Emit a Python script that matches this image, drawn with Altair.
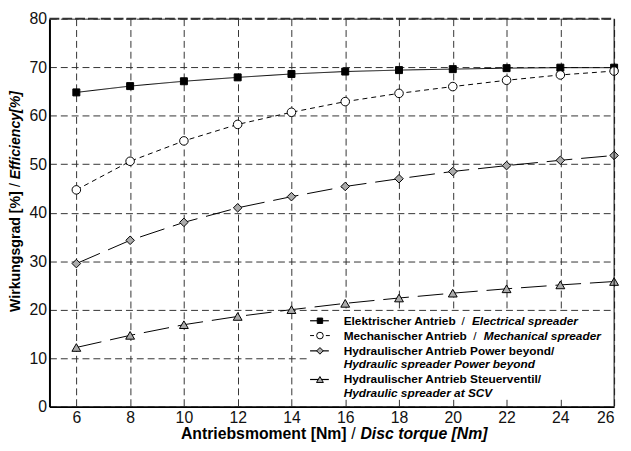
import altair as alt
import pandas as pd

# ---------------- data ----------------
torque = [6, 8, 10, 12, 14, 16, 18, 20, 22, 24, 26]
elektrisch = [64.8, 66.1, 67.1, 67.9, 68.6, 69.1, 69.4, 69.6, 69.8, 69.9, 69.9]
mechanisch = [44.7, 50.6, 54.8, 58.2, 60.7, 62.9, 64.6, 66.0, 67.3, 68.4, 69.2]
hydr_power_beyond = [29.5, 34.3, 38.0, 41.0, 43.3, 45.4, 47.0, 48.5, 49.7, 50.8, 51.8]
hydr_steuerventil = [12.2, 14.7, 16.9, 18.6, 20.0, 21.3, 22.4, 23.4, 24.3, 25.1, 25.8]

series_keys = ["elek", "mech", "hpb", "hscv"]
legend_de = ["Elektrischer Antrieb", "Mechanischer Antrieb",
             "Hydraulischer Antrieb Power beyond/", "Hydraulischer Antrieb Steuerventil/"]
legend_en = ["Electrical spreader", "Mechanical spreader",
             "Hydraulic spreader Power beyond", "Hydraulic spreader at SCV"]
y_ticks = [0, 10, 20, 30, 40, 50, 60, 70, 80]
x_title_de, x_title_en = "Antriebsmoment [Nm]", "Disc torque [Nm]"
y_title_de, y_title_en = "Wirkungsgrad [%]", "Efficiency[%]"

rows = []
for key, vals in zip(series_keys, [elektrisch, mechanisch, hydr_power_beyond, hydr_steuerventil]):
    for t, v in zip(torque, vals):
        rows.append({"series": key, "torque": t, "eff": v})
df = pd.DataFrame(rows)

# ---------------- layout ----------------
W, H = 572, 393
FONT = "Liberation Sans"

xs = alt.Scale(domain=[5, 26], nice=False, zero=False)
ys = alt.Scale(domain=[0, 80], nice=False)
X = alt.X("torque:Q", scale=xs, axis=alt.Axis(values=torque, title=None, labelPadding=3))
Y = alt.Y("eff:Q", scale=ys, axis=alt.Axis(values=y_ticks, title=None, labelPadding=3))

styles = {
    "elek": dict(dash=[1, 0], width=1.0, shape="square", fill="black", size=50),
    "mech": dict(dash=[5, 4], width=1.0, shape="circle", fill="white", size=75),
    "hpb": dict(dash=[26, 9], width=1.0, shape="diamond", fill="#ababab", size=75),
    "hscv": dict(dash=[26, 9], width=1.0, shape="triangle-up", fill="#ababab", size=80),
}

one = alt.Data(values=[{"k": 1}])


def vtext(txt, x, y, **kw):
    params = dict(font=FONT, fontSize=12, baseline="middle", color="black", align="left")
    params.update(kw)
    return alt.Chart(one).mark_text(text=txt, **params).encode(x=alt.value(x), y=alt.value(y))


layers = []
for key in series_keys:
    s = styles[key]
    sub = alt.Chart(df).transform_filter(alt.datum.series == key)
    layers.append(sub.mark_line(color="black", strokeWidth=s["width"], strokeDash=s["dash"]).encode(x=X, y=Y))
    layers.append(sub.mark_point(shape=s["shape"], filled=True, fill=s["fill"], stroke="black",
                                 strokeWidth=1, size=s["size"], opacity=1).encode(x=X, y=Y))

# white legend box (covers the grid) drawn as a thick white rule
layers.append(alt.Chart(one).mark_rule(color="white", strokeWidth=89, strokeCap="butt").encode(
    x=alt.value(263), x2=alt.value(572), y=alt.value(341.5)))

# frame: right border and thick top
layers.append(alt.Chart(one).mark_rule(color="black", strokeWidth=1).encode(
    x=alt.value(W), y=alt.value(0), y2=alt.value(H)))
layers.append(alt.Chart(one).mark_rule(color="#333", strokeWidth=2, strokeDash=[10, 3]).encode(
    x=alt.value(0), x2=alt.value(W), y=alt.value(0)))

# legend
row_y = [306, 321, 336.5, 365.5]
row_y2 = [None, None, 350, 379]
sx0, sx1, mx, tx = 264, 283, 274, 298
slash_xs = [419, 431]
for i, key in enumerate(series_keys):
    s = styles[key]
    y = row_y[i]
    if key == "mech":
        layers.append(alt.Chart(one).mark_rule(color="black", strokeWidth=1, strokeDash=[4, 4]).encode(
            x=alt.value(sx0), x2=alt.value(sx1 + 1), y=alt.value(y)))
    else:
        layers.append(alt.Chart(one).mark_rule(color="black", strokeWidth=1.2).encode(
            x=alt.value(sx0), x2=alt.value(sx1), y=alt.value(y)))
    layers.append(alt.Chart(one).mark_point(shape=s["shape"], filled=True, fill=s["fill"], stroke="black",
                                            strokeWidth=1, size=s["size"] * 0.6, opacity=1).encode(
        x=alt.value(mx), y=alt.value(y)))
    layers.append(vtext(legend_de[i], tx, y, fontWeight="bold"))
    if row_y2[i] is None:
        layers.append(vtext("/", slash_xs[i], y, align="center"))
        layers.append(vtext(legend_en[i], slash_xs[i] + 9, y, fontWeight="bold", fontStyle="italic"))
    else:
        layers.append(vtext(legend_en[i], tx, row_y2[i], fontWeight="bold", fontStyle="italic"))

# axis titles
layers.append(vtext(x_title_de, 301, 421, fontSize=16, fontWeight="bold", align="right"))
layers.append(vtext("/", 308, 421, fontSize=16, align="center"))
layers.append(vtext(x_title_en, 315, 421, fontSize=16, fontWeight="bold", fontStyle="italic", align="left"))
layers.append(vtext(y_title_de, -34, 297, fontSize=14.3, fontWeight="bold", align="left", angle=270))
layers.append(vtext("/", -34, 168.6, fontSize=14.3, align="center", angle=270))
layers.append(vtext(y_title_en, -34, 162.7, fontSize=14.3, fontWeight="bold", fontStyle="italic", align="left", angle=270))

chart = alt.layer(*layers).properties(
    width=W, height=H,
    autosize=alt.AutoSizeParams(type="none"),
    padding={"left": 42, "top": 8, "right": 9, "bottom": 34},
    background="white",
).configure_view(stroke=None).configure_axis(
    labelFont=FONT, labelFontSize=16, labelColor="#111",
    domainColor="black", domainWidth=2, ticks=False, zindex=0,
    grid=True, gridDash=[7, 4], gridColor="#333", gridOpacity=1, gridWidth=1,
)

chart.save("out.html", embed_options={"renderer": "svg", "actions": False})
